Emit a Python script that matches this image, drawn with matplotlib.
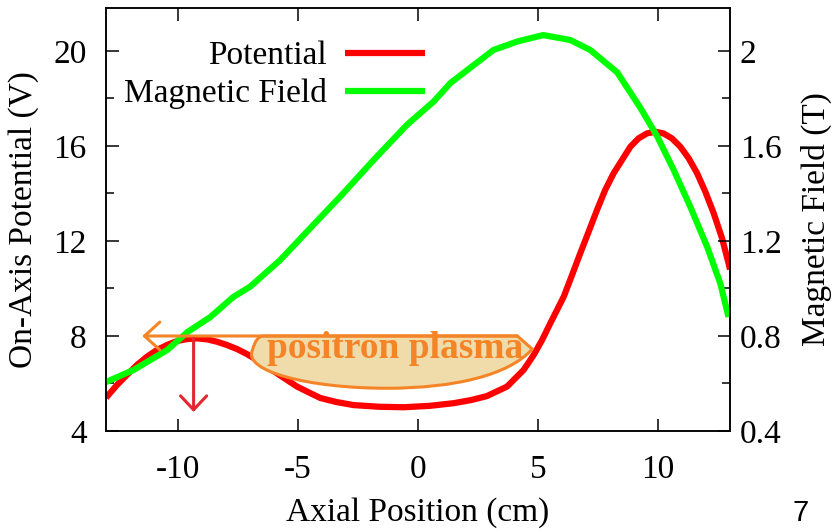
import matplotlib.pyplot as plt
from matplotlib.path import Path
from matplotlib.patches import PathPatch
from matplotlib.ticker import MultipleLocator

# On-axis potential (V) vs axial position (cm)
pot_x = [-13.0, -12.54, -12.13, -11.71, -11.29, -10.88, -10.46, -10.04, -9.63, -9.21,
         -8.79, -8.38, -7.96, -7.54, -7.13, -6.71, -6.29, -5.88, -5.46, -5.04,
         -4.5, -4.07, -3.4, -2.68, -1.6, -0.6, 0.5, 1.48, 2.2, 2.87,
         3.71, 4.4, 4.82, 5.17, 5.51, 5.79, 6.07, 6.42, 6.76, 7.11,
         7.46, 7.8, 8.15, 8.5, 8.85, 9.19, 9.54, 9.89, 10.23, 10.58,
         10.93, 11.28, 11.63, 11.97, 12.32, 12.67, 12.94, 13.0]
pot_v = [5.4, 5.94, 6.36, 6.78, 7.13, 7.41, 7.62, 7.79, 7.87, 7.9,
         7.86, 7.76, 7.62, 7.45, 7.24, 6.99, 6.71, 6.43, 6.15, 5.87,
         5.6, 5.39, 5.22, 5.09, 5.02, 5.0, 5.06, 5.17, 5.3, 5.47,
         5.87, 6.57, 7.2, 7.83, 8.53, 9.09, 9.65, 10.57, 11.48, 12.39,
         13.31, 14.15, 14.85, 15.41, 15.97, 16.32, 16.53, 16.6, 16.53, 16.32,
         15.97, 15.48, 14.85, 14.08, 13.17, 12.11, 11.06, 10.8]

# Magnetic field (T) vs axial position (cm)
field_x = [-13.0, -11.85, -10.45, -9.6, -8.65, -7.7, -6.99, -5.74, -4.49, -3.24,
           -1.85, -0.46, 0.65, 1.35, 3.14, 4.14, 5.22, 6.35, 7.18, 8.3, 9.27,
           9.97, 10.65, 11.35, 12.05, 12.6, 12.94]
field_t = [0.606, 0.657, 0.741, 0.817, 0.88, 0.964, 1.008, 1.12, 1.254, 1.387,
           1.541, 1.689, 1.787, 1.865, 2.004, 2.04, 2.067, 2.046, 2.004, 1.91, 1.76,
           1.64, 1.5, 1.343, 1.175, 1.02, 0.88]

x_ticks = [-10, -5, 0, 5, 10]
v_ticks = [4, 8, 12, 16, 20]
t_ticks = [0.4, 0.8, 1.2, 1.6, 2.0]
t_labels = ["0.4", "0.8", "1.2", "1.6", "2"]

plasma_label = "positron plasma"
well_depth_v = 8.0      # barrier height the plasma sits under
well_x = -9.35          # position of the left barrier peak

plt.rcParams["font.family"] = ["Liberation Serif", "DejaVu Serif"]
plt.rcParams["font.size"] = 24
plt.rcParams["axes.unicode_minus"] = False

RED = "#ff0000"
GREEN = "#00ff00"
ORANGE = "#f58426"
ARROW_RED = "#e3262f"

fig = plt.figure(figsize=(8.36, 5.29), dpi=100)
ax = fig.add_axes([106 / 836, 1 - 431 / 529, 624 / 836, 423 / 529])
ax2 = ax.twinx()

ax.plot(pot_x, pot_v, color=RED, lw=4.5, label="Potential",
        solid_capstyle="butt", solid_joinstyle="round")
ax2.plot(field_x, field_t, color=GREEN, lw=4.5, label="Magnetic Field",
         solid_capstyle="butt", solid_joinstyle="round")

ax.set_xlim(-13, 13)
ax.set_ylim(4, 21.81)
ax2.set_ylim(0.4, 2.181)

ax.set_xticks(x_ticks)
ax.set_yticks(v_ticks)
ax.yaxis.set_minor_locator(MultipleLocator(2))
ax2.set_yticks(t_ticks)
ax2.set_yticklabels(t_labels)
ax2.yaxis.set_minor_locator(MultipleLocator(0.2))

ax.tick_params(axis="x", which="major", direction="in", top=True, length=9, width=1.1, pad=17)
ax.tick_params(axis="y", which="major", direction="in", length=9, width=1.1, pad=14)
ax.tick_params(axis="y", which="minor", direction="in", length=6, width=1.1)
ax2.tick_params(axis="y", which="major", direction="in", length=9, width=1.1, pad=7)
ax2.tick_params(axis="y", which="minor", direction="in", length=6, width=1.1)
for a in (ax, ax2):
    for s in a.spines.values():
        s.set_linewidth(1.1)

ax.set_xlabel("Axial Position (cm)", labelpad=9)
ax.set_ylabel("On-Axis Potential (V)", labelpad=10)
ax2.set_ylabel("Magnetic Field (T)", labelpad=14)

h1, l1 = ax.get_legend_handles_labels()
h2, l2 = ax2.get_legend_handles_labels()
ax2.legend(h1 + h2, l1 + l2, loc="upper right", bbox_to_anchor=(0.511, 0.922),
           frameon=False, markerfirst=False, handlelength=2.4, handletextpad=0.55,
           labelspacing=0.21, borderpad=0, borderaxespad=0)

# plasma blob sitting in the well, flat top at the barrier height
V = Path
verts = [(-6.45, well_depth_v), (4.14, well_depth_v), (4.76, 7.45),
         (3.8, 6.35), (1.5, 5.8), (-1.3, 5.8),
         (-4.5, 5.8), (-7.3, 6.5), (-6.9, 7.4),
         (-6.75, well_depth_v), (-6.45, well_depth_v)]
codes = [V.MOVETO, V.LINETO, V.LINETO,
         V.CURVE4, V.CURVE4, V.CURVE4,
         V.CURVE4, V.CURVE4, V.CURVE4,
         V.CURVE3, V.CURVE3]
blob = PathPatch(Path(verts, codes), facecolor="#f0dcaa", edgecolor=ORANGE,
                 lw=2.2, transform=ax.transData)
ax2.add_patch(blob)
ax2.text(-0.95, 7.07, plasma_label, transform=ax.transData, ha="center", va="baseline",
         color=ORANGE, fontweight="bold", fontsize=27)

# barrier level arrow pointing left
ax2.annotate("", xy=(-11.49, well_depth_v), xytext=(4.14, well_depth_v),
             xycoords=ax.transData, textcoords=ax.transData,
             arrowprops=dict(arrowstyle="->,head_length=0.55,head_width=0.5",
                             color=ORANGE, lw=2.2, mutation_scale=20,
                             shrinkA=0, shrinkB=0))
# downward arrow from the left peak
ax2.annotate("", xy=(well_x, 4.8), xytext=(well_x, 7.9),
             xycoords=ax.transData, textcoords=ax.transData,
             arrowprops=dict(arrowstyle="->,head_length=0.5,head_width=0.47",
                             color=ARROW_RED, lw=2.2, mutation_scale=20,
                             shrinkA=0, shrinkB=0))

fig.text(801 / 836, 1 - 513 / 529, "7", ha="center", va="center",
         family=["Liberation Sans", "DejaVu Sans"], fontsize=21)

fig.savefig("out.png", dpi=100)
